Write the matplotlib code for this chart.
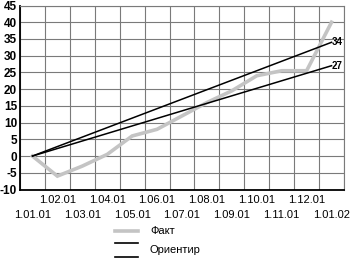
import numpy as np
import matplotlib
matplotlib.use("Agg")
import matplotlib.pyplot as plt
from matplotlib.lines import Line2D

plt.rcParams['font.family'] = ['Liberation Sans Narrow', 'Liberation Sans', 'DejaVu Sans']

# data
dates = ['1.01.01', '1.02.01', '1.03.01', '1.04.01', '1.05.01', '1.06.01', '1.07.01',
         '1.08.01', '1.09.01', '1.10.01', '1.11.01', '1.12.01', '1.01.02']
fact = [0, -6, -3, 0.5, 6, 8, 12, 16, 19.5, 24, 25.5, 25.5, 40]
orient_idx = [0, 12]
orient_hi = [0, 34]
orient_lo = [0, 27]
yticks = [-10, -5, 0, 5, 10, 15, 20, 25, 30, 35, 40, 45]

fig = plt.figure(figsize=(3.5, 2.59), dpi=100)
ax = fig.add_axes([20 / 350, 1 - 189.5 / 259, 324 / 350, 184 / 259])

x = np.arange(len(dates))
ax.plot(x, fact, color='#c4c4c4', lw=2.6, solid_joinstyle='miter', zorder=3)
ax.plot(orient_idx, orient_hi, color='black', lw=1.1, zorder=4)
ax.plot(orient_idx, orient_lo, color='black', lw=1.1, zorder=4)
ax.text(orient_idx[-1] + 0.02, orient_hi[-1], str(orient_hi[-1]), fontsize=7,
        fontweight='bold', va='center', ha='left')
ax.text(orient_idx[-1] + 0.02, orient_lo[-1], str(orient_lo[-1]), fontsize=7,
        fontweight='bold', va='center', ha='left')

ax.set_xlim(-0.5, len(dates) - 0.5)
ax.set_ylim(-10, 45)
ax.set_yticks(yticks)
ax.set_yticklabels([str(v) for v in yticks], fontsize=8.5, fontweight='bold')
ax.yaxis.grid(True, color='#7a7a7a', lw=0.8)
for b in np.arange(-0.5, len(dates), 1.0):
    ax.axvline(b, color='#7a7a7a', lw=0.8, zorder=1)
ax.set_axisbelow(True)

# two rows of date labels
ax.set_xticks(x[1::2])
ax.set_xticklabels(dates[1::2], fontsize=8)
ax.set_xticks(x[0::2], minor=True)
ax.set_xticklabels(dates[0::2], minor=True, fontsize=8)
ax.tick_params(axis='x', which='major', length=0, pad=4)
ax.tick_params(axis='x', which='minor', length=0, pad=14.5)
ax.tick_params(axis='y', length=0, pad=2)

for s in ['top', 'right']:
    ax.spines[s].set_color('#7a7a7a')
    ax.spines[s].set_linewidth(0.8)
for s in ['left', 'bottom']:
    ax.spines[s].set_color('black')
    ax.spines[s].set_linewidth(1.3)

# legend
x0, x1, xt = 115 / 350, 138 / 350, 150 / 350
fig.add_artist(Line2D([x0, x1], [1 - 231 / 259] * 2, color='#c4c4c4', lw=2.6))
fig.add_artist(Line2D([x0, x1], [1 - 243 / 259] * 2, color='black', lw=1.2))
fig.add_artist(Line2D([x0, x1], [1 - 257 / 259] * 2, color='black', lw=1.2))
fig.text(xt, 1 - 231 / 259, 'Факт', fontsize=8, va='center')
fig.text(xt, 1 - 250 / 259, 'Ориентир', fontsize=8, va='center')

fig.savefig('out.png', dpi=100)
